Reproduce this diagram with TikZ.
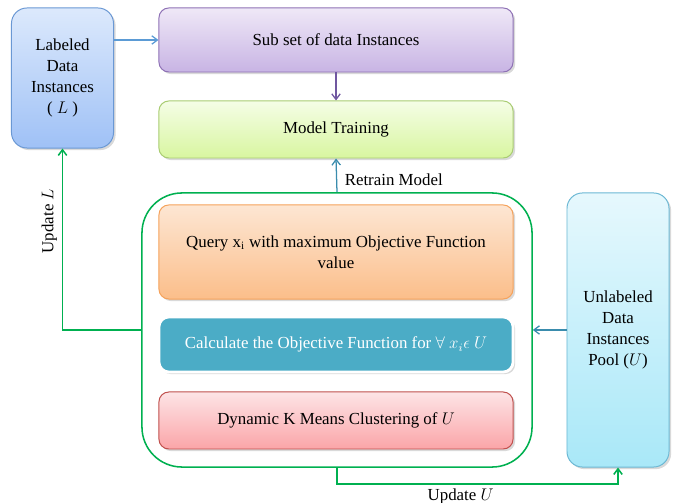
\documentclass[tikz,border=0pt]{standalone}
\usepackage{amsmath}
\usepackage{amssymb}
\usepackage{xcolor}
\usepackage{fontspec}
\setmainfont{Liberation Serif}
\usepackage{tikz}
\usetikzlibrary{arrows.meta,shadows,positioning}

\definecolor{labtop}{HTML}{DCE9FC}
\definecolor{labbot}{HTML}{9FC1F6}
\definecolor{labline}{HTML}{6A98D4}
\definecolor{subtop}{HTML}{EFE8F7}
\definecolor{subbot}{HTML}{C8B4E4}
\definecolor{subline}{HTML}{8E71B5}
\definecolor{traintop}{HTML}{F5FDE6}
\definecolor{trainbot}{HTML}{D8F6A0}
\definecolor{trainline}{HTML}{A9CC72}
\definecolor{querytop}{HTML}{FDE6D3}
\definecolor{querybot}{HTML}{FBBE8A}
\definecolor{queryline}{HTML}{F5A25B}
\definecolor{calcfill}{HTML}{4BACC6}
\definecolor{dyntop}{HTML}{FDE4E6}
\definecolor{dynbot}{HTML}{FBA5A8}
\definecolor{dynline}{HTML}{C0504D}
\definecolor{unltop}{HTML}{E6F8FD}
\definecolor{unlbot}{HTML}{A9E8F8}
\definecolor{unlline}{HTML}{6CB8D4}
\definecolor{loopgreen}{HTML}{00B050}
\definecolor{bluearrow}{HTML}{5B9BD5}
\definecolor{purplearrow}{HTML}{7057A0}
\definecolor{tealarrow}{HTML}{3A8CAD}

\tikzset{
    box/.style={draw, line width=0.7pt, rounded corners=7pt, align=center,
        font=\fontsize{12}{15}\selectfont,
        drop shadow={opacity=0.3, shadow xshift=1.5pt, shadow yshift=-1.5pt}},
    wide/.style={box, minimum width=8.85cm},
    tall/.style={box, rounded corners=11pt, minimum width=2.55cm},
    flow/.style={line width=0.9pt, -{Straight Barb[length=4pt,width=6pt]}},
    loopline/.style={loopgreen, line width=1.1pt},
    lbl/.style={text=black, font=\fontsize{12}{15}\selectfont}
}

\begin{document}
\begin{tikzpicture}[x=0.025cm, y=-0.025cm]
        \useasboundingbox (0,0) rectangle (683,503);

        \node[tall, top color=labtop, bottom color=labbot, draw=labline, minimum height=3.5cm] (labeled) at (62.5,78) {Labeled\\Data\\Instances\\( $L$ )};
        \node[wide, top color=subtop, bottom color=subbot, draw=subline, minimum height=1.6cm] (subset) at (336,40) {Sub set of data Instances};
        \node[wide, top color=traintop, bottom color=trainbot, draw=trainline, minimum height=1.425cm] (train) at (336,129.5) {Model Training};

        \node[draw=loopgreen, line width=1.1pt, rounded corners=1cm, minimum width=9.75cm, minimum height=6.85cm] (pool) at (337,330) {};
        \node[wide, top color=querytop, bottom color=querybot, draw=queryline, minimum height=2.35cm] (query) at (336,252) {Query x\textsubscript{i} with maximum Objective Function\\value};
        \node[wide, fill=calcfill, draw=white, line width=2pt, minimum height=1.375cm, text=white] (calc) at (336,344.5) {Calculate the Objective Function for $\forall\ x_i\epsilon\ U$};
        \node[wide, top color=dyntop, bottom color=dynbot, draw=dynline, minimum height=1.425cm] (kmeans) at (336,420.5) {Dynamic K Means Clustering of $U$};

        \node[tall, top color=unltop, bottom color=unlbot, draw=unlline, minimum height=6.85cm] (unlabeled) at (618,330) {Unlabeled\\Data\\Instances\\Pool ($U$)};

        \draw[flow, bluearrow] (labeled.east |- subset.west) -- (subset.west);
        \draw[flow, purplearrow] (subset.south) -- (train.north);
        \draw[flow, tealarrow] (pool.north) -- node[lbl, pos=0.37, right, xshift=2pt] {Retrain Model} (train.south);
        \draw[flow, tealarrow] (unlabeled.west) -- (pool.east);
        \draw[flow, loopline] (pool.west) -| node[lbl, pos=0.8, above, rotate=90] {Update $L$} (labeled.south);
        \draw[flow, loopline] (pool.south) -- ++(0,16) -| node[lbl, pos=0.22, below] {Update $U$} (unlabeled.south);
\end{tikzpicture}
\end{document}
